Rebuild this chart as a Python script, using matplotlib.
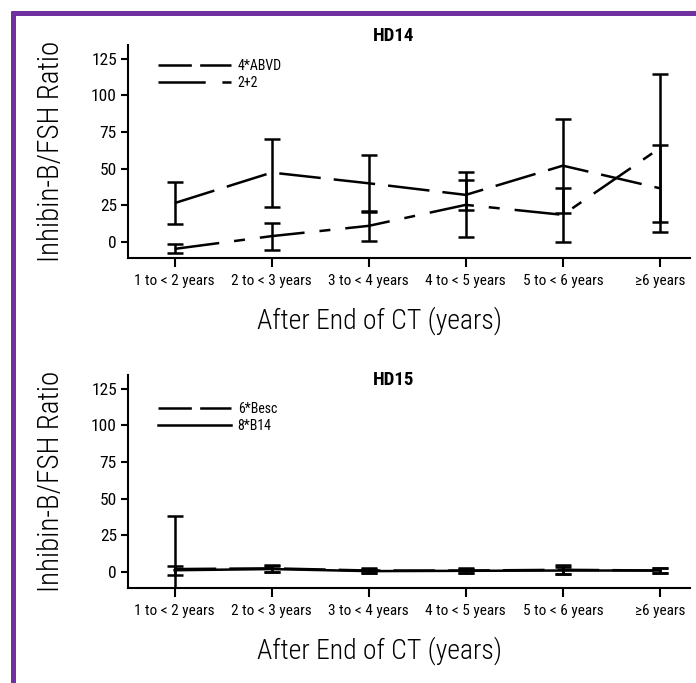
import matplotlib
matplotlib.use("Agg")
import matplotlib.pyplot as plt
from matplotlib.lines import Line2D
import numpy as np

plt.rcParams['font.family'] = ['Roboto Condensed', 'Archivo Narrow', 'DejaVu Sans']
plt.rcParams['lines.scale_dashes'] = False

categories = ["1 to < 2 years", "2 to < 3 years", "3 to < 4 years",
              "4 to < 5 years", "5 to < 6 years", "\u22656 years"]
yticks = [0, 25, 50, 75, 100, 125]

# HD14: mean inhibin-B/FSH ratio and error half-widths
hd14_abvd = [26.5, 47.3, 40.0, 32.1, 52.0, 36.6]
hd14_abvd_err = [14.3, 23.2, 19.4, 10.3, 32.0, 29.5]
hd14_22 = [-4.7, 4.0, 11.0, 25.3, 18.5, 64.0]
hd14_22_err = [3.0, 9.2, 10.0, 22.2, 18.5, 50.3]

# HD15
hd15_besc = [2.0, 2.5, 1.0, 1.0, 1.5, 1.0]
hd15_besc_err = [36.0, 2.5, 2.0, 2.0, 3.0, 2.0]
hd15_b14 = [1.2, 2.0, 0.6, 0.8, 1.0, 1.0]
hd15_b14_err = [3.0, 2.0, 1.5, 1.2, 2.5, 1.5]

W, H = 696, 683
fig = plt.figure(figsize=(W / 100, H / 100), dpi=100)

LW = 1.8
DASH_LONG = (30, 9.4)
DASH_LS = (32.4, 10.8, 7.9, 10.8)


def px(x0, y0, x1, y1):
    return [x0 / W, 1 - y1 / H, (x1 - x0) / W, (y1 - y0) / H]


def panel(rect, title, title_y, legend_y, series, legend_items):
    ax = fig.add_axes(rect)
    x = np.arange(len(categories))
    for vals, errs, dashes in series:
        ax.errorbar(x, vals, yerr=errs, fmt='none', ecolor='black',
                    elinewidth=LW, capsize=6.1, capthick=LW)
        line, = ax.plot(x, vals, color='black', lw=LW)
        if dashes is not None:
            line.set_dashes(dashes)
    ax.set_xlim(-0.48, 5.31)
    ax.set_ylim(-10.9, 134.2)
    for s in ('top', 'right'):
        ax.spines[s].set_visible(False)
    for s in ('left', 'bottom'):
        ax.spines[s].set_linewidth(1.5)
    ax.set_xticks(x)
    ax.set_xticklabels(categories, fontsize=11)
    ax.set_yticks(yticks)
    ax.set_yticklabels([str(v) for v in yticks], fontsize=12.5)
    ax.tick_params(axis='y', length=5, width=1.5, pad=3)
    ax.tick_params(axis='x', length=6.5, width=1.5, pad=5)
    ax.set_ylabel("Inhibin-B/FSH Ratio", fontsize=21, fontweight='light',
                  labelpad=19)
    ax.set_xlabel("After End of CT (years)", fontsize=20, fontweight='light')
    ax.xaxis.set_label_coords(0.448, -0.225)
    ax.text(0.473, title_y, title, transform=ax.transAxes, ha='center',
            va='center', fontsize=13.5, fontweight='bold')
    handles = []
    for label, dashes in legend_items:
        h = Line2D([], [], color='black', lw=LW)
        if dashes is not None:
            h.set_dashes(dashes)
        handles.append(h)
    ax.legend(handles, [l for l, _ in legend_items], loc='upper left',
              bbox_to_anchor=(0.053, legend_y), frameon=False, fontsize=10,
              handlelength=5.3, handletextpad=0.45, labelspacing=0.25,
              borderpad=0, borderaxespad=0)
    return ax


panel(px(128, 45, 690, 258), "HD14", 1.042, 0.935,
      [(hd14_abvd, hd14_abvd_err, DASH_LONG), (hd14_22, hd14_22_err, DASH_LS)],
      [("4*ABVD", (24, 6)), ("2+2", (34, 12, 7, 12))])
panel(px(128, 375, 690, 588), "HD15", 0.977, 0.875,
      [(hd15_besc, hd15_besc_err, DASH_LONG), (hd15_b14, hd15_b14_err, None)],
      [("6*Besc", (24, 6)), ("8*B14", None)])

# purple frame along the top and left edges
purple = '#7030a0'
fig.add_artist(Line2D([11 / W, 1], [1 - 13 / H, 1 - 13 / H], color=purple, lw=3.6,
                      transform=fig.transFigure, solid_capstyle='butt'))
fig.add_artist(Line2D([13 / W, 13 / W], [0, 1 - 11 / H], color=purple, lw=3.6,
                      transform=fig.transFigure, solid_capstyle='butt'))

fig.savefig("out.png", dpi=100)
